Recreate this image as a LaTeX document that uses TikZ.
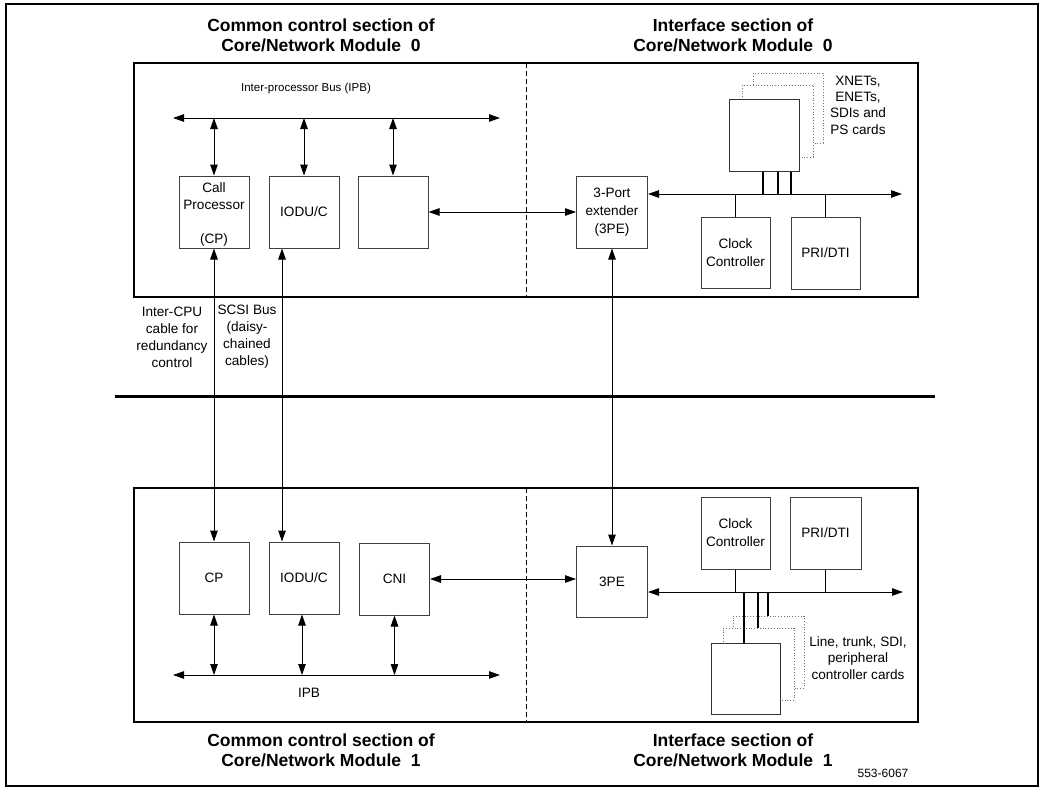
\documentclass[tikz,border=0pt]{standalone}
\usepackage{fontspec}
\setmainfont{Liberation Sans}
\usetikzlibrary{arrows.meta}
\begin{document}
\begin{tikzpicture}[x=1pt,y=-1pt,
  box/.style={draw=black!75, line width=1pt, fill=white, inner sep=0pt, align=center,
    font=\fontsize{13.6}{18}\selectfont},
  card/.style={draw=black!55, line width=0.8pt, dotted, fill=white},
  fcard/.style={draw=black!80, line width=1pt, fill=white},
  lbl/.style={font=\fontsize{13.6}{17}\selectfont, align=center, inner sep=0pt},
  slbl/.style={font=\fontsize{11.5}{14}\selectfont, align=center, inner sep=0pt},
  ttl/.style={font=\fontsize{17.5}{20}\selectfont\bfseries, align=center, inner sep=0pt},
  tip/.tip={Triangle[length=11pt,width=7.5pt]},
  conn/.style={line width=1pt, tip-tip},
  bus/.style={line width=1pt},
  stub/.style={line width=1.8pt},
  divider/.style={line width=0.9pt, dash pattern=on 5pt off 3pt},
]
\useasboundingbox (0,0) rectangle (1042,790);
% outer frame
\draw[line width=2pt] (6,4) rectangle (1038,786);

% titles
\node[ttl] (t0l) at (321,35) {Common control section of\\Core/Network Module~~0};
\node[ttl] (t0r) at (733,35) {Interface section of\\Core/Network Module~~0};
\node[ttl] (t1l) at (321,750) {Common control section of\\Core/Network Module~~1};
\node[ttl] (t1r) at (733,750) {Interface section of\\Core/Network Module~~1};
\node[font=\fontsize{12}{14}\selectfont, inner sep=0pt] (num) at (883,773) {553-6067};

% module boxes
\draw[line width=1.2pt] (134,63) rectangle (918,297);
\draw[line width=1.2pt] (134,488) rectangle (918,722);
\draw[divider] (526,63) -- (526,297);
\draw[divider] (526,488) -- (526,722);
\draw[line width=3pt] (115,396) -- (935,396);

% ---------- top module ----------
\node[slbl] (ipb0lbl) at (306,89) {Inter-processor Bus (IPB)};
\coordinate (ipb0L) at (173,118);
\coordinate (ipb0R) at (500,118);
\draw[conn] (ipb0L) -- (ipb0R);

\node[box, minimum width=70, minimum height=72] (cp0) at (214,212) {};
\node[lbl] (cp0t) at (214,196) {Call\\Processor};
\node[lbl] (cp0b) at (214,240) {(CP)};
\node[box, minimum width=70, minimum height=72] (io0) at (304,212) {IODU/C};
\node[box, minimum width=70, minimum height=72] (bl0) at (393,212) {};
\node[box, minimum width=71, minimum height=72] (pe0) at (612,212) {3-Port\\extender\\(3PE)};

\draw[conn] (cp0.north) -- (cp0.north |- ipb0L);
\draw[conn] (io0.north) -- (io0.north |- ipb0L);
\draw[conn] (bl0.north) -- (bl0.north |- ipb0L);
\draw[conn] (bl0.east) -- (pe0.west);

% stacked cards (top)
\draw[card] (753,73) rectangle (823,143);
\draw[card] (742,85) rectangle (813,157);
\node[fcard, minimum width=70, minimum height=72, inner sep=0pt] (cards0) at (764,135) {};
\node[lbl, font=\fontsize{13.6}{16.3}\selectfont] (cards0lbl) at (858,105) {XNETs,\\ENETs,\\SDIs and\\PS cards};

\coordinate (bus0R) at (902,194);
\draw[conn] (bus0R -| pe0.east) -- (bus0R);

\node[box, minimum width=69, minimum height=71] (ck0) at (735.5,252.5) {Clock\\Controller};
\node[box, minimum width=69, minimum height=72] (pr0) at (825.5,253) {PRI/DTI};
\draw[bus] (ck0.north) -- (ck0.north |- bus0R);
\draw[bus] (pr0.north) -- (pr0.north |- bus0R);
\coordinate (s0a) at (763,194);
\coordinate (s0b) at (778,194);
\coordinate (s0c) at (791,194);
\draw[stub] (s0a) -- (s0a |- cards0.south);
\draw[stub] (s0b) -- (s0b |- cards0.south);
\draw[stub] (s0c) -- (s0c |- cards0.south);

% labels between modules
\node[lbl] (icpu) at (172,337) {Inter-CPU\\cable for\\redundancy\\control};
\node[lbl] (scsi) at (247,337) {SCSI Bus\\(daisy-\\chained\\cables)};

% ---------- bottom module ----------
\node[box, minimum width=70, minimum height=72] (cp1) at (214,578) {CP};
\node[box, minimum width=70, minimum height=72] (io1) at (304,578) {IODU/C};
\node[box, minimum width=70, minimum height=72] (cn1) at (394.5,579) {CNI};
\node[box, minimum width=71, minimum height=71] (pe1) at (612,581.5) {3PE};

\coordinate (scsiX) at (282,400);
\draw[conn] (cp0.south) -- (cp1.north);
\draw[conn] (io0.south -| scsiX) -- (io1.north -| scsiX);
\draw[conn] (pe0.south) -- (pe1.north);

\coordinate (ipb1L) at (173,675);
\coordinate (ipb1R) at (500,675);
\draw[conn] (ipb1L) -- (ipb1R);
\node[lbl] (ipb1lbl) at (309,693) {IPB};
\draw[conn] (cp1.south) -- (cp1.south |- ipb1L);
\coordinate (ioX) at (302,600);
\draw[conn] (io1.south -| ioX) -- (ioX |- ipb1L);
\draw[conn] (cn1.south) -- (cn1.south |- ipb1L);
\draw[conn] (cn1.east) -- (cn1.east -| pe1.west);

\coordinate (bus1R) at (903,592);
\draw[conn] (bus1R -| pe1.east) -- (bus1R);
\node[box, minimum width=69, minimum height=72] (ck1) at (735.5,533) {Clock\\Controller};
\node[box, minimum width=71, minimum height=72] (pr1) at (825.5,533) {PRI/DTI};
\draw[bus] (ck1.south) -- (ck1.south |- bus1R);
\draw[bus] (pr1.south) -- (pr1.south |- bus1R);

% stacked cards (bottom)
\node[card, minimum width=71, minimum height=72, inner sep=0pt] (cards1c) at (768.5,652) {};
\node[card, minimum width=71, minimum height=72, inner sep=0pt] (cards1b) at (758.5,664) {};
\node[fcard, minimum width=69, minimum height=71, inner sep=0pt] (cards1a) at (745.5,678.5) {};
\coordinate (s1a) at (744,592);
\coordinate (s1b) at (758,592);
\coordinate (s1c) at (768,592);
\draw[stub] (s1a) -- (s1a |- cards1a.north);
\draw[stub] (s1b) -- (s1b |- cards1b.north);
\draw[stub] (s1c) -- (s1c |- cards1c.north);
\node[lbl, font=\fontsize{13.6}{16.5}\selectfont] (cards1lbl) at (858,658) {Line, trunk, SDI,\\peripheral\\controller cards};
\end{tikzpicture}
\end{document}
